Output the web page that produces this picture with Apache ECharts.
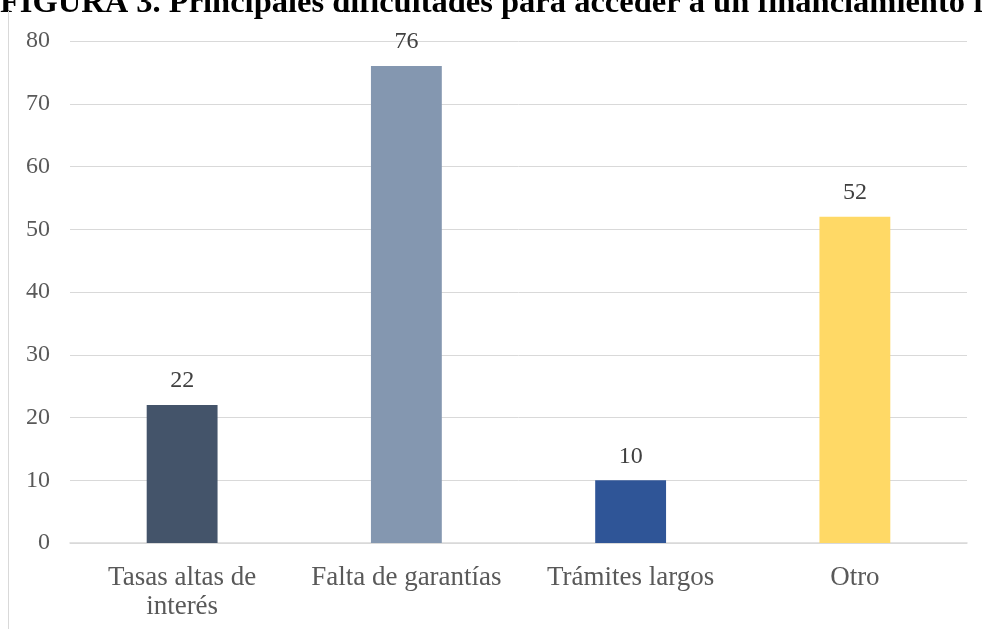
<!DOCTYPE html>
<html>
<head>
<meta charset="utf-8">
<script src="https://cdn.jsdelivr.net/npm/echarts@6/dist/echarts.min.js"></script>
<style>
html,body{margin:0;padding:0;background:#fff;}
#chart{width:982px;height:629px;}
</style>
</head>
<body>
<div id="chart"></div>
<script>
var titleText = 'FIGURA 3. Principales dificultades para acceder a un financiamiento formal';
var categories = ['Tasas altas de\ninterés', 'Falta de garantías', 'Trámites largos', 'Otro'];
var values = [22, 76, 10, 52];
var barColors = ['#44546A', '#8497B0', '#2F5597', '#FFD966'];
var yTicks = { min: 0, max: 80, interval: 10 };

var chart = echarts.init(document.getElementById('chart'));
var serif = '"Liberation Serif", "Times New Roman", serif';
chart.setOption({
  animation: false,
  backgroundColor: '#ffffff',
  graphic: [
    { type: 'text', left: 0, top: -13, style: { text: titleText, font: 'bold 32.5px ' + serif, fill: '#000' } },
    { type: 'line', shape: { x1: 8.5, y1: 11, x2: 8.5, y2: 629 }, style: { stroke: '#d9d9d9', lineWidth: 1 } }
  ],
  grid: { left: 70, right: 15, top: 41, bottom: 86 },
  xAxis: {
    type: 'category',
    data: categories,
    axisTick: { show: false },
    axisLine: { lineStyle: { color: '#d9d9d9', width: 1.5 } },
    axisLabel: { color: '#595959', fontFamily: serif, fontSize: 27, margin: 20, lineHeight: 29, interval: 0 }
  },
  yAxis: {
    type: 'value',
    min: yTicks.min, max: yTicks.max, interval: yTicks.interval,
    axisLine: { show: false },
    axisTick: { show: false },
    splitLine: { lineStyle: { color: '#d9d9d9', width: 1 } },
    axisLabel: { color: '#595959', fontFamily: serif, fontSize: 24, margin: 20 }
  },
  series: [{
    type: 'bar',
    data: values.map(function (v, i) { return { value: v, itemStyle: { color: barColors[i] } }; }),
    barWidth: '31.6%',
    label: { show: true, position: 'top', distance: 12, color: '#404040', fontFamily: serif, fontSize: 24 }
  }]
});
</script>
</body>
</html>
